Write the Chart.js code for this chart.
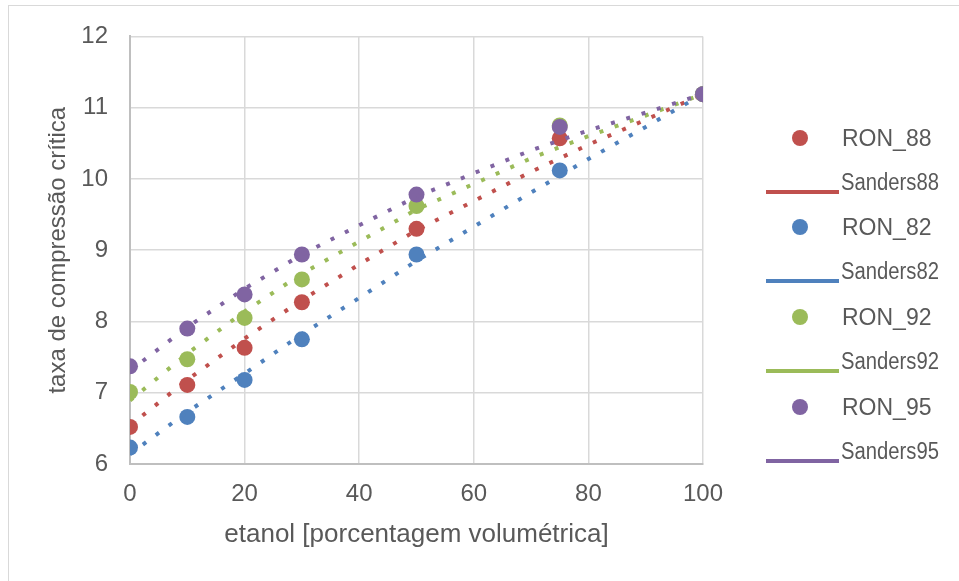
<!DOCTYPE html>
<html>
<head>
<meta charset="utf-8">
<script src="https://cdn.jsdelivr.net/npm/chart.js@4.4.0/dist/chart.umd.min.js"></script>
<style>
  html, body { margin: 0; padding: 0; background: #fff; }
  body { width: 959px; height: 581px; position: relative; overflow: hidden; font-family: "Liberation Sans", Arial, sans-serif; }
  #frame { position: absolute; left: 8px; top: 5px; width: 1000px; height: 700px; border: 1px solid #d9d9d9; }
  #wrap { position: absolute; left: 0; top: 0; width: 959px; height: 581px; }
  .leg-text { position: absolute; color: #595959; font-size: 23px; line-height: 24px; height: 24px; white-space: nowrap; }
  .leg-text.narrow { transform: scaleX(0.88); transform-origin: left center; }
  .leg-dot { position: absolute; width: 16px; height: 16px; border-radius: 50%; }
  .leg-line { position: absolute; height: 4px; }
</style>
</head>
<body>
<div id="frame"></div>
<div id="wrap"><canvas id="chart" width="959" height="581"></canvas></div>
<div id="legend"></div>
<script>
// etanol [% vol] nos pontos medidos
const ethanol = [0, 10, 20, 30, 50, 75, 100];
const ron88 = [6.52, 7.11, 7.63, 8.27, 9.30, 10.57, 11.19];
const ron82 = [6.23, 6.66, 7.18, 7.75, 8.94, 10.12, 11.19];
const ron92 = [7.01, 7.47, 8.05, 8.59, 9.62, 10.75, 11.19];
const ron95 = [7.37, 7.90, 8.38, 8.94, 9.78, 10.73, 11.19];

// curvas de Sanders
const sandersX = [0, 10, 20, 30, 40, 50, 60, 70, 80, 90, 100];
const sanders88 = [6.54, 7.18, 7.76, 8.30, 8.80, 9.28, 9.69, 10.10, 10.48, 10.83, 11.19];
const sanders82 = [6.14, 6.73, 7.27, 7.82, 8.33, 8.85, 9.33, 9.81, 10.28, 10.73, 11.19];
const sanders92 = [6.89, 7.55, 8.14, 8.67, 9.12, 9.57, 9.93, 10.29, 10.60, 10.89, 11.19];
const sanders95 = [7.31, 7.92, 8.46, 8.94, 9.35, 9.75, 10.08, 10.40, 10.68, 10.93, 11.19];

const xTicks = [0, 20, 40, 60, 80, 100];
const yTicks = [6, 7, 8, 9, 10, 11, 12];

const groups = [
    { ron: 'RON_88', sanders: 'Sanders88', pts: ron88, curve: sanders88 },
    { ron: 'RON_82', sanders: 'Sanders82', pts: ron82, curve: sanders82 },
    { ron: 'RON_92', sanders: 'Sanders92', pts: ron92, curve: sanders92 },
    { ron: 'RON_95', sanders: 'Sanders95', pts: ron95, curve: sanders95 }
];
const colors = ['#C0504D', '#4F81BD', '#9BBB59', '#8064A2'];

const datasets = [];
groups.forEach((g, i) => {
    datasets.push({
        label: g.ron,
        data: ethanol.map((x, k) => ({ x: x, y: g.pts[k] })),
        showLine: false,
        pointRadius: 8,
        pointHoverRadius: 8,
        pointBorderWidth: 0,
        pointBackgroundColor: colors[i],
        order: 20 - i * 2
    });
    datasets.push({
        label: g.sanders,
        data: sandersX.map((x, k) => ({ x: x, y: g.curve[k] })),
        showLine: true,
        borderColor: colors[i],
        borderWidth: 4,
        borderDash: [4, 12],
        borderCapStyle: 'butt',
        pointRadius: 0,
        tension: 0,
        order: 19 - i * 2
    });
});

const tickFont = { family: '"Liberation Sans", Arial, sans-serif', size: 24 };

new Chart(document.getElementById('chart'), {
    type: 'scatter',
    data: { datasets: datasets },
    options: {
        responsive: false,
        animation: false,
        layout: { padding: { left: 40, top: 36, right: 256, bottom: 0 } },
        plugins: { legend: { display: false }, tooltip: { enabled: false } },
        scales: {
            x: {
                type: 'linear',
                min: 0, max: 100,
                afterBuildTicks: s => { s.ticks = xTicks.map(v => ({ value: v })); },
                afterFit: s => { s.height = 117; },
                grid: { color: '#d9d9d9', lineWidth: 1.5, drawTicks: false },
                border: { color: '#bfbfbf', width: 2 },
                ticks: { color: '#595959', font: tickFont, padding: 16 },
                title: {
                    display: true,
                    text: 'etanol [porcentagem volumétrica]',
                    color: '#595959',
                    font: { family: '"Liberation Sans", Arial, sans-serif', size: 26 },
                    padding: { top: 4, bottom: 31 }
                }
            },
            y: {
                type: 'linear',
                min: 6, max: 12,
                afterBuildTicks: s => { s.ticks = yTicks.map(v => ({ value: v })); },
                afterFit: s => { s.width = 90; },
                grid: { color: '#d9d9d9', lineWidth: 1.5, drawTicks: false },
                border: { color: '#bfbfbf', width: 2 },
                ticks: { color: '#595959', font: tickFont, padding: 22 },
                title: {
                    display: true,
                    text: 'taxa de compressão crítica',
                    color: '#595959',
                    font: { family: '"Liberation Sans", Arial, sans-serif', size: 24 },
                    padding: { top: 4, bottom: 4 }
                }
            }
        }
    }
});

// legenda à direita
const legend = document.getElementById('legend');
groups.forEach((g, i) => {
    const base = 137.7 + i * 89.7;
    const dot = document.createElement('div');
    dot.className = 'leg-dot';
    dot.style.left = '792px';
    dot.style.top = (base - 8) + 'px';
    dot.style.background = colors[i];
    legend.appendChild(dot);

    const t1 = document.createElement('div');
    t1.className = 'leg-text';
    t1.style.left = '842px';
    t1.style.top = (base - 12) + 'px';
    t1.textContent = g.ron;
    legend.appendChild(t1);

    const t2 = document.createElement('div');
    t2.className = 'leg-text narrow';
    t2.style.left = '841px';
    t2.style.top = (base + 44 - 12) + 'px';
    t2.textContent = g.sanders;
    legend.appendChild(t2);

    const ln = document.createElement('div');
    ln.className = 'leg-line';
    ln.style.left = '766px';
    ln.style.width = '73px';
    ln.style.top = (base + 54 - 2) + 'px';
    ln.style.background = colors[i];
    legend.appendChild(ln);
});
</script>
</body>
</html>
